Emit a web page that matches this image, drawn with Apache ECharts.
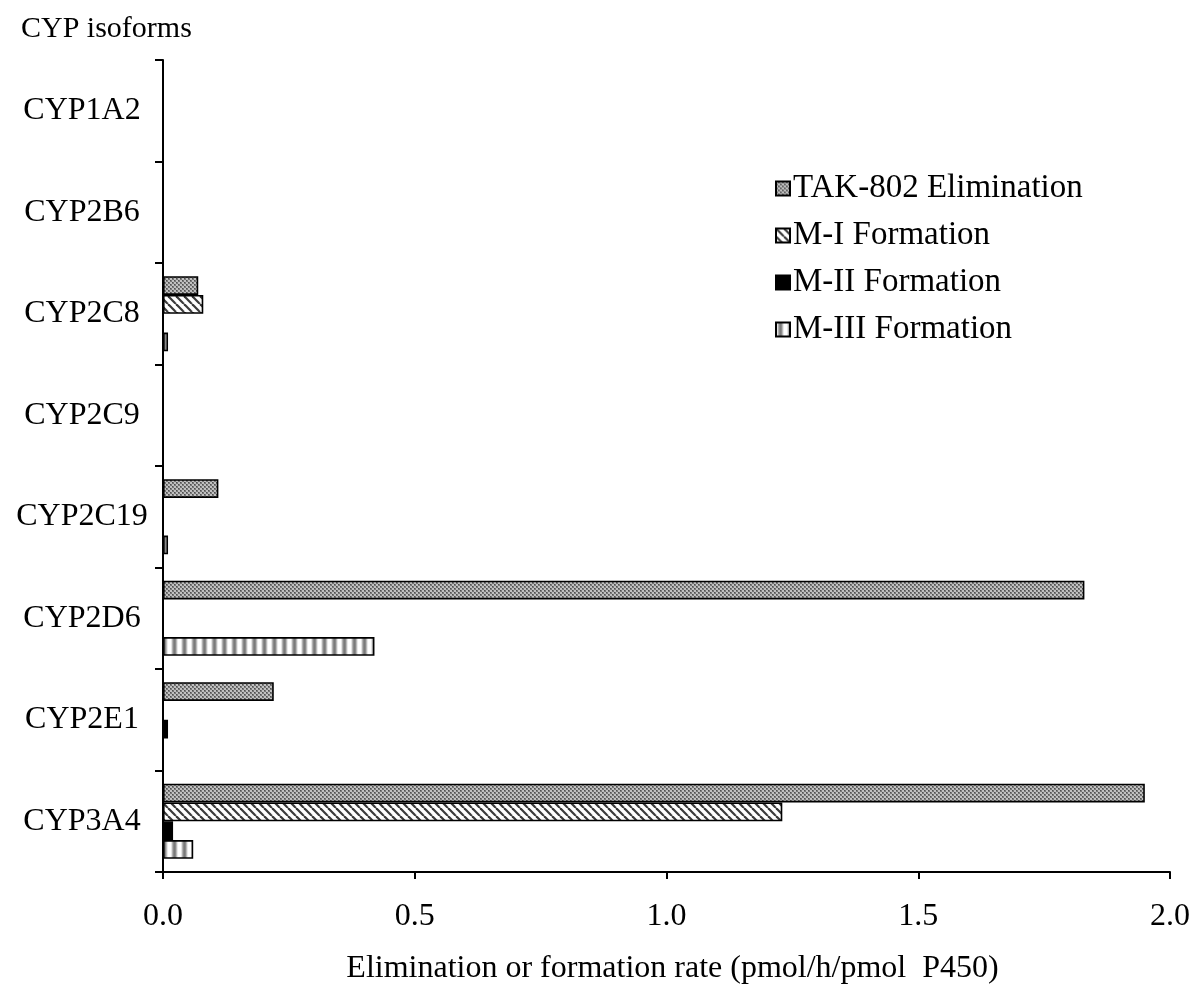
<!DOCTYPE html>
<html>
<head>
<meta charset="utf-8">
<script src="https://cdn.jsdelivr.net/npm/echarts@6/dist/echarts.min.js"></script>
<style>
html,body{margin:0;padding:0;background:#fff;}
#chart{width:1193px;height:992px;}
</style>
</head>
<body>
<div id="chart"></div>
<script>
// ---- data ----
const categories = ['CYP1A2','CYP2B6','CYP2C8','CYP2C9','CYP2C19','CYP2D6','CYP2E1','CYP3A4'];
const seriesNames = ['TAK-802 Elimination','M-I Formation','M-II Formation','M-III Formation'];
const takElimination = [0, 0, 0.07, 0, 0.11, 1.83, 0.22, 1.95];
const m1Formation    = [0, 0, 0.08, 0, 0,    0,    0,    1.23];
const m2Formation    = [0, 0, 0,    0, 0,    0,    0.01, 0.02];
const m3Formation    = [0, 0, 0.01, 0, 0.01, 0.42, 0,    0.06];
const xTicks = [0, 0.5, 1.0, 1.5, 2.0];

// ---- patterns ----
function makeTile(w, h, draw) {
  const c = document.createElement('canvas');
  c.width = w; c.height = h;
  const ctx = c.getContext('2d');
  draw(ctx, w, h);
  return c;
}
const dotTile = makeTile(4, 4, (ctx) => {
  ctx.fillStyle = '#777777'; ctx.fillRect(0,0,4,4);
  ctx.fillStyle = '#c0c0c0';
  ctx.fillRect(0,0,2,2); ctx.fillRect(2,2,2,2);
  ctx.fillStyle = '#505050';
  ctx.fillRect(2,0,1,1); ctx.fillRect(0,2,1,1);
});
const diagTile = makeTile(8, 8, (ctx, w, h) => {
  ctx.fillStyle = '#ffffff'; ctx.fillRect(0,0,w,h);
  ctx.strokeStyle = '#3a3a3a'; ctx.lineWidth = 2.2;
  for (let k = -2; k <= 2; k++) {
    ctx.beginPath();
    ctx.moveTo(k*8, 0); ctx.lineTo(k*8 + 8, 8);
    ctx.stroke();
  }
});
const vstripeTile = makeTile(10, 4, (ctx) => {
  const cols = ['#ffffff','#e4e4e4','#b0b0b0','#8a8a8a','#7a7a7a','#8a8a8a','#b8b8b8','#e8e8e8','#ffffff','#ffffff'];
  cols.forEach((col, i) => { ctx.fillStyle = col; ctx.fillRect(i, 0, 1, 4); });
});
const fills = [
  {image: dotTile, repeat: 'repeat'},
  {image: diagTile, repeat: 'repeat'},
  '#000000',
  {image: vstripeTile, repeat: 'repeat'}
];
const values = [takElimination, m1Formation, m2Formation, m3Formation];

const FONT = 'Liberation Serif';
const chart = echarts.init(document.getElementById('chart'));
chart.setOption({
  backgroundColor: '#ffffff',
  animation: false,
  title: {
    text: 'CYP isoforms', left: 16, top: 9,
    textStyle: {fontFamily: FONT, fontSize: 30, fontWeight: 'normal', color: '#000'}
  },
  legend: {
    orient: 'vertical', left: 770, top: 167,
    itemWidth: 14, itemHeight: 14, itemGap: 14,
    icon: 'rect',
    textStyle: {fontFamily: FONT, fontSize: 33, color: '#000', padding: [0,0,0,-2]},
    data: seriesNames
  },
  grid: {left: 163, right: 16, top: 60, bottom: 120, containLabel: false},
  xAxis: {
    type: 'value', min: 0, max: 2, interval: 0.5,
    name: 'Elimination or formation rate (pmol/h/pmol  P450)',
    nameLocation: 'middle', nameGap: 81,
    nameTextStyle: {fontFamily: FONT, fontSize: 32, color: '#000', padding: [0,0,0,12]},
    axisLine: {show: true, lineStyle: {color: '#000', width: 2}},
    axisTick: {show: true, length: 7, lineStyle: {color: '#000', width: 2}},
    splitLine: {show: false},
    axisLabel: {fontFamily: FONT, fontSize: 32, color: '#000', margin: 29,
      formatter: v => v.toFixed(1)}
  },
  yAxis: {
    type: 'category', data: categories, inverse: true,
    axisLine: {show: true, lineStyle: {color: '#000', width: 2}},
    axisTick: {show: true, length: 8, lineStyle: {color: '#000', width: 2}},
    axisLabel: {fontFamily: FONT, fontSize: 32, color: '#000', align: 'center', margin: 81}
  },
  series: seriesNames.map((name, i) => ({
    name, type: 'bar',
    barGap: '0%', barCategoryGap: '26%',
    data: values[i].map(v => v === 0 ? '-' : v),
    itemStyle: {color: fills[i], borderColor: '#000', borderWidth: 1.6}
  }))
});
</script>
</body>
</html>
